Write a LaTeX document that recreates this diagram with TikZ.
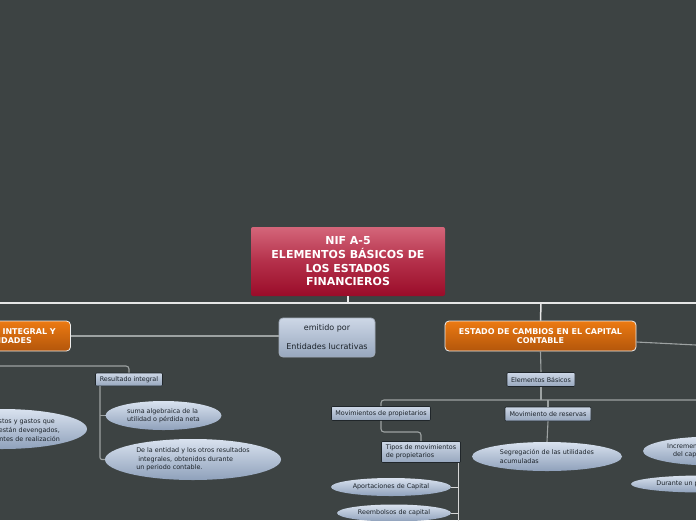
\documentclass[tikz,border=0pt]{standalone}
\usepackage{fontspec}
\setmainfont{DejaVu Sans}
\usetikzlibrary{shapes.geometric}
\definecolor{bg}{HTML}{3D4343}
\definecolor{busWhite}{HTML}{E6E6E6}
\definecolor{lineGray}{HTML}{9DA2A2}
\definecolor{lineLight}{HTML}{D6D6D6}
\definecolor{rootTop}{HTML}{D4667A}
\definecolor{rootMid}{HTML}{B4304A}
\definecolor{rootBot}{HTML}{9A0C29}
\definecolor{orTop}{HTML}{EC7A12}
\definecolor{orBot}{HTML}{B3560B}
\definecolor{mainBorder}{HTML}{EDEDED}
\definecolor{blTop}{HTML}{CDD7E6}
\definecolor{blBot}{HTML}{97A7BE}
\definecolor{elTop}{HTML}{D9E2EF}
\definecolor{elBot}{HTML}{8FA1BB}
\definecolor{rectBorder}{HTML}{20262A}
\definecolor{emiBorder}{HTML}{A3ADBB}
\definecolor{txtDark}{HTML}{1C232A}
\begin{document}
\begin{tikzpicture}[x=1pt,y=-1pt,
  line/.style={draw=lineGray, line width=1.1pt},
  lightline/.style={draw=lineLight, line width=1pt},
  busline/.style={draw=busWhite, line width=1.5pt},
  rootbox/.style={rectangle, rounded corners=2pt, minimum width=194pt, minimum height=69pt,
    top color=rootTop, bottom color=rootBot, middle color=rootMid, text=white,
    font=\fontsize{11}{13.7}\selectfont\bfseries, align=center, inner sep=0pt},
  mainbox/.style={rectangle, rounded corners=4pt, draw=mainBorder, line width=0.8pt,
    top color=orTop, bottom color=orBot, text=white,
    font=\fontsize{8}{9}\selectfont\bfseries, align=center,
    minimum width=191pt, minimum height=30pt, inner sep=0pt},
  emibox/.style={rectangle, rounded corners=4pt, draw=emiBorder, line width=0.8pt,
    top color=blTop, bottom color=blBot, text=txtDark,
    font=\fontsize{8}{19}\selectfont, align=center,
    minimum width=96pt, minimum height=39pt, inner sep=0pt},
  subbox/.style={rectangle, rounded corners=1pt, draw=rectBorder, line width=0.6pt,
    top color=blTop, bottom color=blBot, text=txtDark,
    font=\fontsize{6.4}{8.3}\selectfont, inner sep=0pt},
  ellip/.style={ellipse, top color=elTop, bottom color=elBot, text=txtDark,
    font=\fontsize{6.4}{8.3}\selectfont, inner sep=0pt, align=left},
  smalltext/.style={text=txtDark, font=\fontsize{6.4}{9}\selectfont, inner sep=0pt}
]
\useasboundingbox (0,0) rectangle (696,520);
\clip (0,0) rectangle (696,520);
\fill[bg] (0,0) rectangle (696,520);

% coordinates for bus lines
\coordinate (rootbus) at (348,303);
\coordinate (busL) at (0,303);
\coordinate (busR) at (696,303);
\coordinate (capbus) at (541,303);
\coordinate (capR) at (696,345);
\coordinate (ebbus) at (541,400);
\coordinate (b2R) at (696,400);
\coordinate (mrbus) at (548,400);
\coordinate (tmturn) at (421,432);
\coordinate (tmv) at (458,522);
\coordinate (b3L) at (0,366);
\coordinate (rib) at (100,386);

% nodes
\node[rootbox] (root) at (348,261.5) {NIF A-5\\ELEMENTOS BÁSICOS DE\\LOS ESTADOS\\FINANCIEROS};
\node[mainbox] (res) at (-25,336) {ESTADO DE RESULTADO INTEGRAL Y\\ESTADO DE ACTIVIDADES};
\node[mainbox] (cap) at (540.5,336) {ESTADO DE CAMBIOS EN EL CAPITAL\\CONTABLE};
\node[emibox] (emi) at (327,337.5) {emitido por\\Entidades lucrativas};
\node[subbox, minimum width=68pt, minimum height=14pt] (eb) at (541,379.5) {Elementos Básicos};
\node[subbox, minimum width=67pt, minimum height=13pt] (ri) at (129,379.5) {Resultado integral};
\node[subbox, minimum width=99pt, minimum height=14pt] (mp) at (381,413.5) {Movimientos de propietarios};
\node[subbox, minimum width=86pt, minimum height=14pt] (mr) at (548,414) {Movimiento de reservas};
\node[subbox, minimum width=79pt, minimum height=21pt, align=left] (tm) at (421,452) {Tipos de movimientos\\de propietarios};

\node[ellip, minimum width=120pt, minimum height=18pt, align=center] (ap) at (391,487) {Aportaciones de Capital};
\node[ellip, minimum width=114pt, minimum height=17pt, align=center] (rc) at (394,513) {Reembolsos de capital};
\node[ellip, minimum width=150pt, minimum height=29pt] (sg) at (547,456.5) {Segregación de las utilidades\\acumuladas};
\node[ellip, minimum width=142pt, minimum height=29pt] (inc) at (714,451) {Incrementos o disminuciones\\\hspace*{6pt}del capital contable};
\node[ellip, minimum width=143pt, minimum height=17pt, align=center] (dur) at (702.5,484) {Durante un periodo contable};
\node[ellip, minimum width=116pt, minimum height=29pt] (sa) at (163.5,415.5) {suma algebraica de la\\utilidad o pérdida neta};
\node[ellip, minimum width=176pt, minimum height=41pt] (de) at (193,459.5) {De la entidad y los otros resultados\\\hspace*{2pt}integrales, obtenidos durante\\un periodo contable.};
\node[ellip, minimum width=170pt, minimum height=40pt] (ig) at (2,429) {};
\node[smalltext, anchor=east, align=right] (igt) at (60,431) {los ingresos, costos y gastos que\hspace*{5pt}\\que ya están devengados,\hspace*{6pt}\\independientes de realización};

% connectors
\draw[busline] (root.south) -- (rootbus);
\draw[busline] (busL) -- (busR);
\draw[busline] (capbus) -- (cap.north);
\draw[line] (res.east) -- (res.east -| emi.west);
\draw[line] ([yshift=-6pt]cap.east) -- (capR);
\draw[line] (cap.south) -- (eb.north);
\draw[line] (eb.south) -- (ebbus);
\draw[line, rounded corners=3pt] (mp.north) |- (b2R);
\draw[line] (mrbus) -- (mr.north);
\draw[line, rounded corners=3pt] (mp.south) |- (tmturn) -- (tm.north);
\draw[lightline] (tm.south -| tmv) -- (tmv);
\draw[lightline] (ap.east) -- (ap.east -| tmv);
\draw[lightline] (rc.east) -- (rc.east -| tmv);
\draw[line] (mr.south) -- (sg.north);
\draw[line, rounded corners=3pt] (b3L) -| (ri.north);
\draw[line, rounded corners=2pt] (rib) |- (de.west);
\draw[line] (rib |- sa.west) -- (sa.west);
\end{tikzpicture}
\end{document}
